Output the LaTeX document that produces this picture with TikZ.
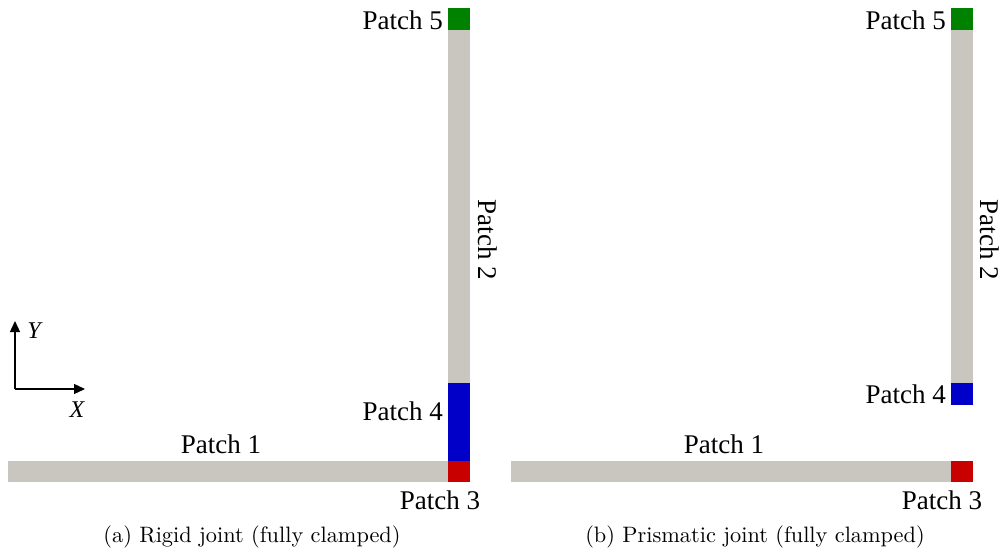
\documentclass[tikz,border=0pt]{standalone}
\usepackage{fontspec}
\setmainfont{Liberation Serif}
\newfontfamily\lmfont{lmroman10-regular.otf}
\usetikzlibrary{arrows.meta}
\definecolor{bargray}{RGB}{200,198,190}
\definecolor{pblue}{RGB}{0,0,200}
\definecolor{pred}{RGB}{200,0,0}
\definecolor{pgreen}{RGB}{0,130,0}
\tikzset{
  bar/.style={fill=bargray,draw=none},
  lbl/.style={font=\fontsize{27}{30}\selectfont,inner sep=0pt},
  captxt/.style={font=\lmfont\fontsize{22.3}{26}\selectfont,inner sep=0pt},
  axis/.style={-{Triangle[length=11pt,width=10pt]},line width=1.3pt},
  axlbl/.style={font=\itshape\fontsize{24}{26}\selectfont,inner sep=0pt}
}
\begin{document}
\begin{tikzpicture}[x=1pt,y=-1pt]
\useasboundingbox (0,0) rectangle (1001,553);
% left panel
\fill[bar] (8,461) rectangle (448,482);
\fill[bar] (448,30) rectangle (470,383);
\fill[pblue] (448,383) rectangle (470,461);
\fill[pred] (448,461) rectangle (470,482);
\fill[pgreen] (448,8) rectangle (470,30);
\node[lbl,anchor=east] (l5) at (443,20) {Patch 5};
\node[lbl,anchor=east] (l4) at (443,411) {Patch 4};
\node[lbl] (l1) at (221,444) {Patch 1};
\node[lbl] (l3) at (440,500) {Patch 3};
\node[lbl,rotate=-90] (l2) at (488,240) {Patch 2};
% axes
\coordinate (o) at (15,389);
\coordinate (ya) at (15,321);
\coordinate (xa) at (85,389);
\draw[axis] (o) -- (ya);
\draw[axis] (o) -- (xa);
\node[axlbl] (ly) at (34,331) {Y};
\node[axlbl] (lx) at (77,410) {X};
% right panel
\fill[bar] (511,461) rectangle (951,482);
\fill[bar] (951,30) rectangle (973,383);
\fill[pblue] (951,383) rectangle (973,405);
\fill[pred] (951,461) rectangle (973,482);
\fill[pgreen] (951,8) rectangle (973,30);
\node[lbl,anchor=east] (r5) at (946,20) {Patch 5};
\node[lbl,anchor=east] (r4) at (946,394) {Patch 4};
\node[lbl] (r1) at (724,444) {Patch 1};
\node[lbl] (r3) at (942,500) {Patch 3};
\node[lbl,rotate=-90] (r2) at (990,240) {Patch 2};
% captions
\node[captxt] (ca) at (252,537) {(a) Rigid joint (fully clamped)};
\node[captxt] (cb) at (755,537) {(b) Prismatic joint (fully clamped)};
\end{tikzpicture}
\end{document}
